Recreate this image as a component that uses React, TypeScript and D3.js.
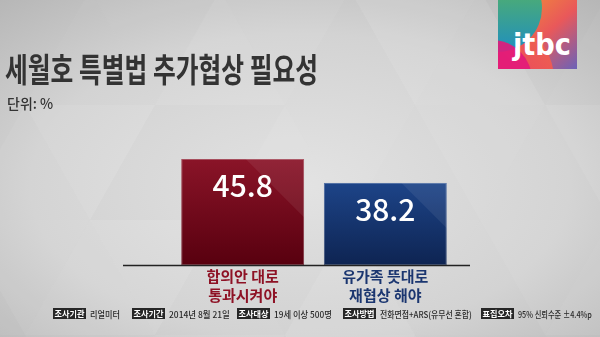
import React, { useLayoutEffect, useRef, useState } from "react";
import * as d3 from "d3";

// Survey result: need for additional negotiation on the Sewol special act
const categories: string[][] = [
  ["합의안 대로", "통과시켜야"],
  ["유가족 뜻대로", "재협상 해야"],
];
const values: number[] = [45.8, 38.2];
const barTop = ["#8a1428", "#1d4488"];
const barBottom = ["#58000f", "#0e2452"];
const labelColors = ["#8e1225", "#1b3670"];

const footerKeys = ["조사기관", "조사기간", "조사대상", "조사방법", "표집오차"];
const footerValues = [
  "리얼미터",
  "2014년 8월 21일",
  "19세 이상 500명",
  "전화면접+ARS(유무선 혼합)",
  "95% 신뢰수준 ±4.4%p",
];

const W = 600;
const H = 337;
const FONT = "'Noto Sans CJK KR', 'Noto Sans', sans-serif";

// footer layout
const keyX = [53, 132, 237, 343, 481];
const keyW = 33;
const valW = [30, 61, 58, 92, 74];

// text squeezed horizontally to a target width
function FitText({
  x,
  y,
  width,
  children,
  ...rest
}: {
  x: number;
  y: number;
  width: number;
  children: string;
  [k: string]: any;
}) {
  const ref = useRef<SVGTextElement>(null);
  const [k, setK] = useState(1);
  useLayoutEffect(() => {
    if (ref.current) {
      const len = ref.current.getComputedTextLength();
      if (len > 0) setK(Math.min(1, width / len));
    }
  }, [children, width]);
  return (
    <g transform={`translate(${x},${y}) scale(${k},1)`}>
      <text ref={ref} x={0} y={0} {...rest}>
        {children}
      </text>
    </g>
  );
}

export default function App() {
  const x = d3
    .scaleBand<number>()
    .domain(values.map((_, i) => i))
    .range([160, 468])
    .paddingInner(0.14)
    .paddingOuter(0.15);
  const y = d3.scaleLinear().domain([12.2, 45.8]).range([265, 159]);
  const base = y(12.2);

  // background triangle tiling
  const tris: { pts: string; op: number }[] = [];
  const tw = 130;
  const th = 115;
  for (let r = -1; r < 4; r++) {
    for (let c = -1; c < 7; c++) {
      const x0 = c * tw + (r % 2 ? tw / 2 : 0) - 40;
      const y0 = r * th - 10;
      tris.push({
        pts: `${x0},${y0} ${x0 + tw},${y0} ${x0 + tw / 2},${y0 + th}`,
        op: ((r * 3 + c * 5) % 4) * 0.035,
      });
      tris.push({
        pts: `${x0 + tw / 2},${y0 + th} ${x0 + tw},${y0} ${x0 + tw * 1.5},${y0 + th}`,
        op: ((r * 7 + c * 2 + 1) % 4) * 0.03,
      });
    }
  }

  return (
    <div style={{ position: "fixed", left: 0, top: 0 }}>
      <svg width={W} height={H} style={{ display: "block" }}>
        <defs>
          <radialGradient id="bg" cx="0.5" cy="0.55" r="0.75">
            <stop offset="0" stopColor="#e2e2e2" />
            <stop offset="0.6" stopColor="#d2d2d2" />
            <stop offset="1" stopColor="#b6b6b6" />
          </radialGradient>
          {values.map((_, i) => (
            <linearGradient key={i} id={`bar${i}`} x1="0" y1="0" x2="0" y2="1">
              <stop offset="0" stopColor={barTop[i]} />
              <stop offset="1" stopColor={barBottom[i]} />
            </linearGradient>
          ))}
          <linearGradient id="logoBase" x1="0" y1="0" x2="1" y2="1">
            <stop offset="0" stopColor="#f39a2e" />
            <stop offset="0.55" stopColor="#e9585a" />
            <stop offset="1" stopColor="#6b62b8" />
          </linearGradient>
          <linearGradient id="logoPink" x1="0" y1="1" x2="1" y2="0">
            <stop offset="0" stopColor="#e01a80" />
            <stop offset="1" stopColor="#f06a48" />
          </linearGradient>
          <linearGradient id="logoGreen" x1="0" y1="0" x2="0" y2="1">
            <stop offset="0" stopColor="#63bb4e" />
            <stop offset="1" stopColor="#1f8fc0" />
          </linearGradient>
          <clipPath id="logoClip">
            <rect x={498} y={0} width={79} height={69} />
          </clipPath>
        </defs>

        <rect width={W} height={H} fill="url(#bg)" />
        {tris.map((t, i) => (
          <polygon key={i} points={t.pts} fill="#ffffff" opacity={t.op} />
        ))}

        {/* logo */}
        <g clipPath="url(#logoClip)">
          <rect x={498} y={0} width={79} height={69} fill="url(#logoBase)" />
          <circle cx={492} cy={80} r={62} fill="url(#logoPink)" />
          <circle cx={498} cy={8} r={44} fill="url(#logoGreen)" />
          <circle cx={492} cy={80} r={40} fill="#e3187a" opacity={0.9} />
          <text
            x={542}
            y={55}
            textAnchor="middle"
            fill="#ffffff"
            fontFamily="'DejaVu Sans', sans-serif"
            fontWeight="bold"
            fontSize={31}
            textLength={58}
            lengthAdjust="spacingAndGlyphs"
          >
            jtbc
          </text>
        </g>

        {/* title */}
        <text
          x={5}
          y={82}
          fill="#333333"
          fontFamily={FONT}
          fontWeight="bold"
          fontSize={33}
          textLength={313}
          lengthAdjust="spacingAndGlyphs"
        >
          세월호 특별법 추가협상 필요성
        </text>
        <text x={7} y={109} fill="#333333" fontFamily={FONT} fontWeight={500} fontSize={14}>
          단위: %
        </text>

        {/* bars */}
        {values.map((v, i) => {
          const bx = x(i)!;
          const bw = x.bandwidth();
          const by = y(v);
          const bh = base - by;
          return (
            <g key={i}>
              <rect x={bx} y={by} width={bw} height={bh} fill={`url(#bar${i})`} />
              <polygon
                points={`${bx + bw},${by} ${bx + bw},${by + bh * 0.55} ${bx + bw - bh * 0.55},${by} `}
                fill="#ffffff"
                opacity={0.07}
              />
              <rect
                x={bx + 0.5}
                y={by + 0.5}
                width={bw - 1}
                height={bh - 1}
                fill="none"
                stroke="#ffffff"
                strokeOpacity={0.25}
              />
              <text
                x={bx + bw / 2}
                y={by + 38}
                textAnchor="middle"
                fill="#ffffff"
                fontFamily={FONT}
                fontWeight={500}
                fontSize={30}
              >
                {v.toFixed(1)}
              </text>
              {categories[i].map((line, j) => (
                <text
                  key={j}
                  x={bx + bw / 2}
                  y={282 + j * 19}
                  textAnchor="middle"
                  fill={labelColors[i]}
                  fontFamily={FONT}
                  fontWeight="bold"
                  fontSize={15}
                >
                  {line}
                </text>
              ))}
            </g>
          );
        })}
        <line x1={123} x2={470} y1={base + 0.5} y2={base + 0.5} stroke="#222222" strokeWidth={1.5} />

        {/* survey details */}
        {footerKeys.map((k, i) => (
          <g key={k}>
            <rect x={keyX[i]} y={308} width={keyW} height={11} fill="#262626" />
            <FitText
              x={keyX[i] + 1.5}
              y={317}
              width={keyW - 3}
              fill="#ffffff"
              fontFamily={FONT}
              fontWeight="bold"
              fontSize={8.5}
            >
              {k}
            </FitText>
            <FitText
              x={keyX[i] + keyW + 4}
              y={317.5}
              width={valW[i]}
              fill="#2a2a2a"
              fontFamily={FONT}
              fontWeight={500}
              fontSize={9}
            >
              {footerValues[i]}
            </FitText>
          </g>
        ))}
      </svg>
    </div>
  );
}
